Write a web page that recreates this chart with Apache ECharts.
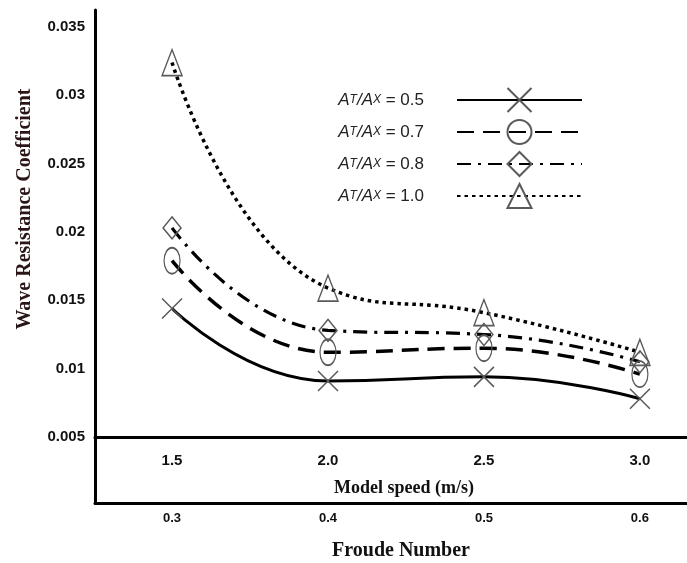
<!DOCTYPE html>
<html>
<head>
<meta charset="utf-8">
<script src="https://cdn.jsdelivr.net/npm/echarts@6/dist/echarts.min.js"></script>
<style>
html,body{margin:0;padding:0;background:#fff;}
#chart{width:687px;height:563px;}
</style>
</head>
<body>
<div id="chart"></div>
<script>
// ---- data ----
const speeds = [1.5, 2.0, 2.5, 3.0];          // model speed (m/s)
const froude = [0.3, 0.4, 0.5, 0.6];          // Froude number tick labels
const ratio05 = [0.0144, 0.0091, 0.0094, 0.0078];
const ratio07 = [0.0179, 0.0112, 0.0115, 0.0096];
const ratio08 = [0.0203, 0.0128, 0.0125, 0.0105];
const ratio10 = [0.0324, 0.0159, 0.0141, 0.0112];
const yTicks = [0.005, 0.01, 0.015, 0.02, 0.025, 0.03, 0.035];
const ratioNames = ['0.5', '0.7', '0.8', '1.0'];

const X_MIN = 1.253, X_MAX = 3.151;
const FR_PER_SPEED = 0.2;

const sym = {
  cross: 'path://M0,0L20,20M20,0L0,20',
  ellipse: 'path://M0,10A10,10,0,1,0,20,10A10,10,0,1,0,0,10Z',
  diamond: 'path://M10,0L20,10L10,20L0,10Z',
  triangle: 'path://M10,0L20,20L0,20Z'
};
const markStyle = {color: 'rgba(0,0,0,0)', borderColor: '#5a5a5a', borderWidth: 1.5};

function mk(name, vals, symbol, size, lineType, width) {
  return {
    name: name,
    type: 'line',
    xAxisIndex: 0, yAxisIndex: 0,
    smooth: true,
    data: speeds.map((s, i) => [s, vals[i]]),
    symbol: symbol,
    symbolSize: size,
    symbolKeepAspect: false,
    itemStyle: markStyle,
    lineStyle: {color: '#000', width: width, type: lineType, cap: 'butt'},
    emphasis: {disabled: true},
    z: 3
  };
}

const chart = echarts.init(document.getElementById('chart'), null, {renderer: 'canvas'});
const tickFont = {fontFamily: 'Liberation Sans', fontWeight: 'bold', color: '#111'};
const nameFont = {fontFamily: 'Liberation Serif', fontWeight: 'bold', color: '#111'};

chart.setOption({
  animation: false,
  backgroundColor: '#fff',
  grid: [
    {left: 95, right: 0, top: 10, height: 427},
    {left: 95, right: 0, top: 437, height: 66}
  ],
  xAxis: [
    {
      type: 'value', gridIndex: 0, min: X_MIN, max: X_MAX,
      axisLine: {show: true, lineStyle: {color: '#000', width: 3}},
      axisTick: {show: false},
      splitLine: {show: false},
      axisLabel: {customValues: speeds, formatter: v => Number(v).toFixed(1), margin: 16,
        fontSize: 15, ...tickFont},
      name: 'Model speed (m/s)', nameLocation: 'middle', nameGap: 42,
      nameTextStyle: {fontSize: 18, ...nameFont, padding: [0, 0, 0, 26]}
    },
    {
      type: 'value', gridIndex: 1, min: X_MIN * FR_PER_SPEED, max: X_MAX * FR_PER_SPEED,
      axisLine: {show: true, lineStyle: {color: '#000', width: 3}},
      axisTick: {show: false},
      splitLine: {show: false},
      axisLabel: {customValues: froude, formatter: v => Number(v).toFixed(1), margin: 9,
        fontSize: 13, ...tickFont},
      name: 'Froude Number', nameLocation: 'middle', nameGap: 38,
      nameTextStyle: {fontSize: 20, ...nameFont, padding: [0, 0, 0, 20]}
    }
  ],
  yAxis: [
    {
      type: 'value', gridIndex: 0, min: 0.005, max: 0.005 + 427 / 68.33 * 0.005,
      axisLine: {show: true, lineStyle: {color: '#000', width: 3}},
      axisTick: {show: false},
      splitLine: {show: false},
      axisLabel: {customValues: yTicks, formatter: v => String(+Number(v).toFixed(4)), margin: 10,
        fontSize: 15, ...tickFont},
      name: 'Wave Resistance Coefficient', nameLocation: 'middle', nameGap: 60,
      nameTextStyle: {fontSize: 20, ...nameFont, color: '#2a1616', padding: [0, 0, 0, 29]}
    },
    {
      type: 'value', gridIndex: 1, min: 0, max: 1,
      axisLine: {show: true, lineStyle: {color: '#000', width: 3}},
      axisTick: {show: false}, axisLabel: {show: false}, splitLine: {show: false}
    }
  ],
  legend: {
    orient: 'vertical',
    right: 99, top: 82,
    align: 'right',
    itemWidth: 125, itemHeight: 30, itemGap: 6,
    selectedMode: false,
    data: ratioNames,
    formatter: n => '{a|A}{s|T}{a|/A}{s|X}{n| = ' + n + '}',
    textStyle: {
      padding: [0, 28, 0, 0],
      rich: {
        a: {fontFamily: 'Liberation Sans', fontStyle: 'italic', fontSize: 17, color: '#222'},
        s: {fontFamily: 'Liberation Sans', fontStyle: 'italic', fontSize: 12, color: '#222'},
        n: {fontFamily: 'Liberation Sans', fontSize: 17, color: '#222'}
      }
    }
  },
  series: [
    mk(ratioNames[0], ratio05, sym.cross, [20, 20], 'solid', 3),
    mk(ratioNames[1], ratio07, sym.ellipse, [16, 26], [17, 9], 3.5),
    mk(ratioNames[2], ratio08, sym.diamond, [18, 22], [14, 7, 3, 7], 3.2),
    mk(ratioNames[3], ratio10, sym.triangle, [20, 26], [3.5, 4], 3.5)
  ]
});
</script>
</body>
</html>
